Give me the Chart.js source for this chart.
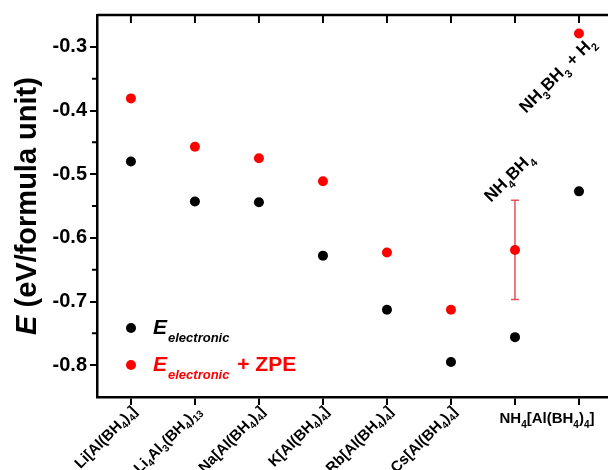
<!DOCTYPE html>
<html>
<head>
<meta charset="utf-8">
<script src="https://cdn.jsdelivr.net/npm/chart.js@4"></script>
<style>
  html, body { margin: 0; padding: 0; overflow: hidden; background: #fff; }
  #wrap { width: 616px; height: 470px; }
</style>
</head>
<body>
<div id="wrap"><canvas id="chart" width="616" height="470"></canvas></div>
<script>
// compounds, "_n" marks a subscript
const categories = ['Li[Al(BH_4)_4]', 'Li_4Al_3(BH_4)_13', 'Na[Al(BH_4)_4]', 'K[Al(BH_4)_4]',
  'Rb[Al(BH_4)_4]', 'Cs[Al(BH_4)_4]', 'NH_4[Al(BH_4)_4]', 'NH_3BH_3 + H_2'];
const eElectronic = [-0.480, -0.543, -0.544, -0.628, -0.713, -0.795, -0.756, -0.527];
const eElectronicZpe = [-0.381, -0.457, -0.475, -0.511, -0.623, -0.713, -0.619, -0.279];
const zpeError = [0, 0, 0, 0, 0, 0, 0.078, 0];
const yTicks = [-0.8, -0.7, -0.6, -0.5, -0.4, -0.3];
const yMinorTicks = [-0.75, -0.65, -0.55, -0.45, -0.35];

const FONT = '"Liberation Sans", Arial, sans-serif';

function parseRich(s) {
  const parts = [];
  const re = /_(\d+)|([^_]+)/g;
  let m;
  while ((m = re.exec(s))) {
    parts.push(m[1] ? { t: m[1], sub: true } : { t: m[2], sub: false });
  }
  return parts;
}

// draws text with subscripts, ctx is already translated / rotated
function drawRich(ctx, s, x, y, size, align, style) {
  const parts = parseRich(s);
  const mainFont = `${style} ${size}px ${FONT}`;
  const subFont = `${style} ${Math.round(size * 0.65)}px ${FONT}`;
  let total = 0;
  parts.forEach(p => {
    ctx.font = p.sub ? subFont : mainFont;
    p.w = ctx.measureText(p.t).width;
    total += p.w;
  });
  let cx = align === 'right' ? x - total : align === 'center' ? x - total / 2 : x;
  ctx.textAlign = 'left';
  parts.forEach(p => {
    ctx.font = p.sub ? subFont : mainFont;
    ctx.fillText(p.t, cx, y + (p.sub ? size * 0.32 : 0));
    cx += p.w;
  });
}

const decorPlugin = {
  id: 'decor',
  beforeDatasetsDraw(chart) {
    // error bars
    const ctx = chart.ctx;
    const xs = chart.scales.x, ys = chart.scales.y;
    ctx.save();
    ctx.strokeStyle = '#e8505a';
    ctx.lineWidth = 1.5;
    zpeError.forEach((err, i) => {
      if (!err) return;
      const x = xs.getPixelForValue(i);
      const y1 = ys.getPixelForValue(eElectronicZpe[i] + err);
      const y2 = ys.getPixelForValue(eElectronicZpe[i] - err);
      ctx.beginPath();
      ctx.moveTo(x, y1); ctx.lineTo(x, y2);
      ctx.moveTo(x - 4, y1); ctx.lineTo(x + 4, y1);
      ctx.moveTo(x - 4, y2); ctx.lineTo(x + 4, y2);
      ctx.stroke();
    });
    ctx.restore();
  },
  afterDraw(chart) {
    const ctx = chart.ctx;
    const area = chart.chartArea;
    const xs = chart.scales.x, ys = chart.scales.y;
    ctx.save();
    ctx.strokeStyle = '#000';
    ctx.fillStyle = '#000';

    // top and right frame
    ctx.lineWidth = 2.5;
    ctx.beginPath();
    ctx.moveTo(area.left, area.top);
    ctx.lineTo(area.right, area.top);
    ctx.lineTo(area.right, area.bottom);
    ctx.stroke();

    // top ticks (inward) and minor y ticks
    ctx.lineWidth = 2;
    ctx.beginPath();
    categories.forEach((c, i) => {
      const x = xs.getPixelForValue(i);
      ctx.moveTo(x, area.top);
      ctx.lineTo(x, area.top + 8);
    });
    yMinorTicks.forEach(v => {
      const y = ys.getPixelForValue(v);
      ctx.moveTo(area.left - 5, y);
      ctx.lineTo(area.left, y);
    });
    ctx.stroke();

    // x labels
    ctx.textBaseline = 'middle';
    categories.forEach((c, i) => {
      if (i >= 6) return;
      const x = xs.getPixelForValue(i);
      ctx.save();
      ctx.translate(x + 4, area.bottom + 12);
      ctx.rotate(-Math.PI / 4);
      drawRich(ctx, c, 0, 0, 15, 'right', 'bold');
      ctx.restore();
    });
    ctx.textBaseline = 'alphabetic';
    const midX = (xs.getPixelForValue(6) + xs.getPixelForValue(7)) / 2;
    drawRich(ctx, categories[6], midX, area.bottom + 26, 15, 'center', 'bold');

    // annotations
    ctx.save();
    ctx.translate(xs.getPixelForValue(6) - 24, ys.getPixelForValue(-0.545));
    ctx.rotate(-Math.PI / 4);
    drawRich(ctx, 'NH_4BH_4', 0, 0, 17, 'left', 'bold');
    ctx.restore();
    ctx.save();
    ctx.translate(xs.getPixelForValue(7) - 53, ys.getPixelForValue(-0.405));
    ctx.rotate(-Math.PI / 4);
    drawRich(ctx, categories[7], 0, 0, 17, 'left', 'bold');
    ctx.restore();

    // y title
    ctx.save();
    ctx.translate(28, (area.top + area.bottom) / 2);
    ctx.rotate(-Math.PI / 2);
    ctx.textBaseline = 'middle';
    ctx.font = `italic bold 29px ${FONT}`;
    const wE = ctx.measureText('E').width;
    ctx.font = `bold 29px ${FONT}`;
    const rest = ' (eV/formula unit)';
    const wR = ctx.measureText(rest).width;
    const sx = -(wE + wR) / 2;
    ctx.font = `italic bold 29px ${FONT}`;
    ctx.fillText('E', sx, 0);
    ctx.font = `bold 29px ${FONT}`;
    ctx.fillText(rest, sx + wE, 0);
    ctx.restore();

    // legend
    const lx = area.left + 34;
    const legend = [
      { color: '#000', y: 328, extra: '' },
      { color: '#ff0000', y: 365, extra: ' + ZPE' }
    ];
    legend.forEach(item => {
      ctx.fillStyle = item.color;
      ctx.beginPath();
      ctx.arc(lx, item.y, 5, 0, Math.PI * 2);
      ctx.fill();
      const base = item.y + 6;
      let tx = lx + 22;
      ctx.font = `italic bold 21px ${FONT}`;
      ctx.fillText('E', tx, base);
      tx += ctx.measureText('E').width + 1;
      ctx.font = `italic bold 13px ${FONT}`;
      ctx.fillText('electronic', tx, base + 8);
      tx += ctx.measureText('electronic').width;
      if (item.extra) {
        ctx.font = `bold 21px ${FONT}`;
        ctx.fillText(item.extra, tx + 2, base);
      }
    });
    ctx.restore();
  }
};

const toPoints = arr => arr.map((y, i) => ({ x: i, y }));

new Chart(document.getElementById('chart'), {
  type: 'scatter',
  data: {
    datasets: [
      {
        label: 'E electronic',
        data: toPoints(eElectronic),
        pointRadius: 5,
        pointHoverRadius: 5,
        pointBackgroundColor: '#000',
        pointBorderWidth: 0,
        borderColor: '#000'
      },
      {
        label: 'E electronic + ZPE',
        data: toPoints(eElectronicZpe),
        pointRadius: 5,
        pointHoverRadius: 5,
        pointBackgroundColor: '#ff0000',
        pointBorderWidth: 0,
        borderColor: '#ff0000'
      }
    ]
  },
  options: {
    responsive: false,
    animation: false,
    layout: { padding: { top: 15, right: 3, left: 0, bottom: 0 } },
    plugins: {
      legend: { display: false },
      tooltip: { enabled: false }
    },
    scales: {
      x: {
        type: 'linear',
        min: -0.53,
        max: 7.5,
        border: { color: '#000', width: 2.5 },
        grid: { drawOnChartArea: false, color: '#000', lineWidth: 2, tickLength: 8 },
        afterBuildTicks: scale => { scale.ticks = categories.map((c, i) => ({ value: i })); },
        ticks: { display: false },
        afterFit: scale => { scale.height = 73; }
      },
      y: {
        min: -0.85,
        max: -0.25,
        border: { color: '#000', width: 2.5 },
        grid: { drawOnChartArea: false, color: '#000', lineWidth: 2, tickLength: 7 },
        afterBuildTicks: scale => { scale.ticks = yTicks.map(v => ({ value: v })); },
        ticks: {
          color: '#000',
          padding: 3,
          font: { family: FONT, size: 20, weight: 'bold' },
          callback: v => v.toFixed(1)
        },
        afterFit: scale => { scale.width = 97; }
      }
    }
  },
  plugins: [decorPlugin]
});
</script>
</body>
</html>
